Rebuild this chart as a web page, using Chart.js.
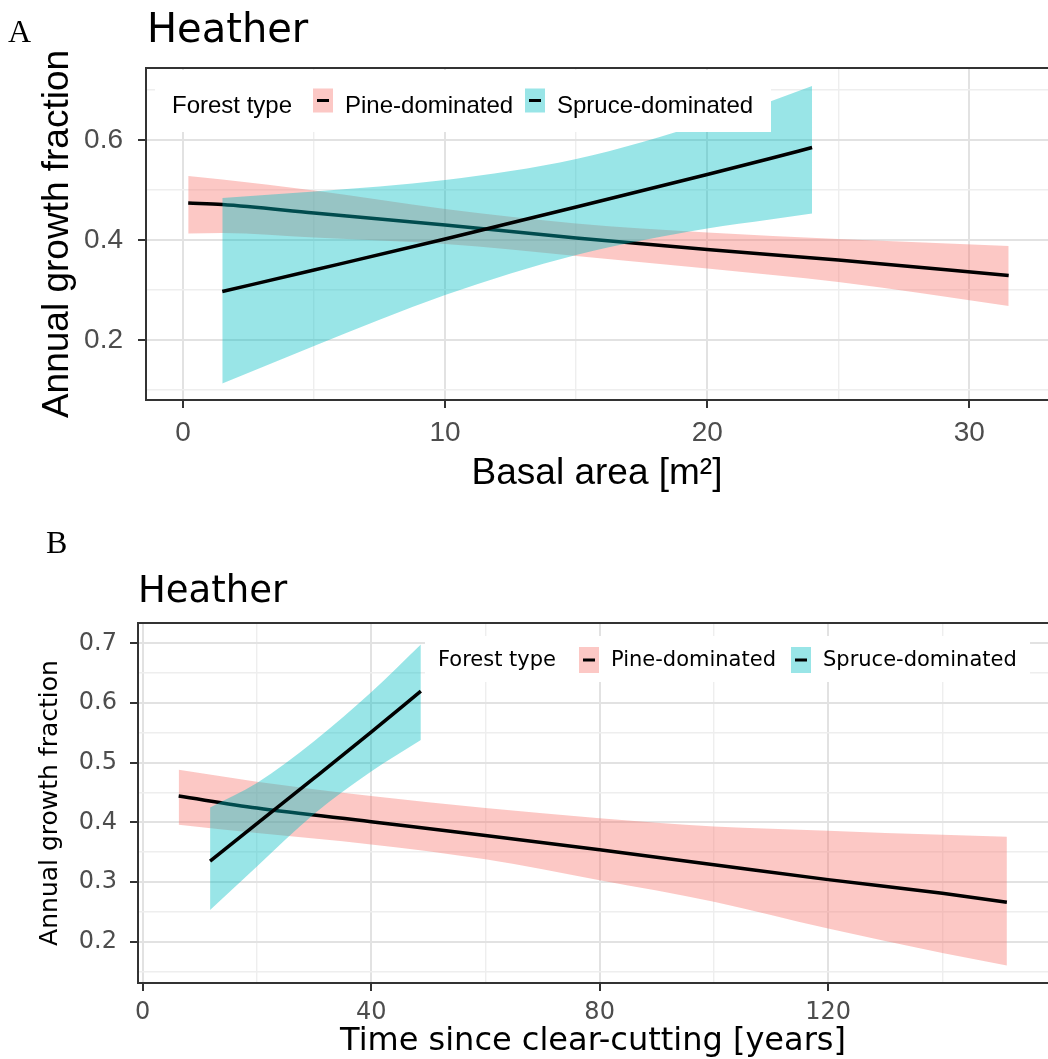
<!DOCTYPE html>
<html>
<head>
<meta charset="utf-8">
<script src="https://cdn.jsdelivr.net/npm/chart.js@4.4.1/dist/chart.umd.min.js"></script>
<style>
  html, body { margin: 0; padding: 0; background: #fff; }
  body { width: 1048px; height: 1059px; position: relative; overflow: hidden; }
  canvas { position: absolute; left: 0; }
  #chartA { top: 0; }
  #chartB { top: 520px; }
  .tag { position: absolute; z-index: 2; font-family: "Liberation Serif", serif; font-size: 32px; line-height: 32px; color: #000; }
</style>
</head>
<body>
<div class="tag" style="left:8px;top:15px">A</div>
<div class="tag" style="left:46px;top:526px">B</div>
<canvas id="chartA" width="1048" height="505"></canvas>
<canvas id="chartB" width="1048" height="539"></canvas>
<script>
// shared text
const panelTitle = 'Heather';
const legendTitle = 'Forest type';
const forestTypes = ['Pine-dominated', 'Spruce-dominated'];
const yTitle = 'Annual growth fraction';

// A: basal area
const basalTitle = 'Basal area [m²]';
const basalXTicks = [0, 10, 20, 30];
const basalXMinor = [5, 15, 25];
const basalYTicks = [0.2, 0.4, 0.6];
const basalYMinor = [0.1, 0.3, 0.5, 0.7];

const basalPineX    = [0.2, 1.5, 5, 10, 15, 20, 25, 31.5];
const basalPineFit  = [0.474, 0.471, 0.454, 0.430, 0.404, 0.381, 0.360, 0.329];
const basalPineLow  = [0.413, 0.414, 0.405, 0.392, 0.368, 0.343, 0.316, 0.268];
const basalPineHigh = [0.528, 0.521, 0.499, 0.462, 0.433, 0.415, 0.402, 0.388];

const basalSpruceX    = [1.5, 5, 10, 15, 20, 22.4, 24];
const basalSpruceFit  = [0.297, 0.340, 0.402, 0.466, 0.531, 0.563, 0.585];
const basalSpruceLow  = [0.113, 0.188, 0.290, 0.370, 0.423, 0.441, 0.453];
const basalSpruceHigh = [0.484, 0.497, 0.520, 0.562, 0.635, 0.677, 0.708];

// B: time since clear-cutting
const timeTitle = 'Time since clear-cutting [years]';
const timeXTicks = [0, 40, 80, 120];
const timeXMinor = [20, 60, 100, 140];
const timeYTicks = [0.2, 0.3, 0.4, 0.5, 0.6, 0.7];
const timeYMinor = [0.15, 0.25, 0.35, 0.45, 0.55, 0.65];

const timePineX    = [6.3, 20, 40, 60, 80, 100, 120, 140, 151.3];
const timePineFit  = [0.444, 0.424, 0.401, 0.378, 0.354, 0.329, 0.304, 0.281, 0.266];
const timePineLow  = [0.396, 0.382, 0.363, 0.338, 0.303, 0.267, 0.222, 0.181, 0.160];
const timePineHigh = [0.488, 0.468, 0.444, 0.424, 0.407, 0.393, 0.386, 0.379, 0.376];

const timeSpruceX    = [11.8, 20, 30, 40, 48.7];
const timeSpruceFit  = [0.335, 0.398, 0.474, 0.551, 0.620];
const timeSpruceLow  = [0.253, 0.326, 0.414, 0.485, 0.538];
const timeSpruceHigh = [0.425, 0.466, 0.536, 0.618, 0.698];

const ribbonFills = ['rgba(248,118,109,0.4)', 'rgba(0,191,196,0.4)'];
const keyOffsets = [141, 353];
const labelOffsets = [173, 385];

function pts(xs, ys) {
    return xs.map((x, i) => ({ x: x, y: ys[i] }));
}

function ribbon(xs, fit, low, high, fill, order) {
    return [
        { data: pts(xs, high), fill: '+1', backgroundColor: fill, borderColor: 'rgba(0,0,0,0)', borderWidth: 0, pointRadius: 0, order: order + 1 },
        { data: pts(xs, low), fill: false, borderColor: 'rgba(0,0,0,0)', borderWidth: 0, pointRadius: 0, order: order + 1 },
        { data: pts(xs, fit), fill: false, borderColor: '#000', borderWidth: 3.5, pointRadius: 0, order: order }
    ];
}

function makePanel(p) {
    const gridFor = (major) => ({
        color: c => (c.tick && major.includes(c.tick.value)) ? '#e2e2e2' : '#eeeeee',
        lineWidth: c => (c.tick && major.includes(c.tick.value)) ? 2 : 1.4,
        tickLength: 8,
        tickWidth: 2,
        tickColor: c => (c.tick && major.includes(c.tick.value)) ? '#333333' : 'rgba(0,0,0,0)'
    });

    const decor = {
        id: 'decor',
        afterDatasetsDraw(chart) {
            const ctx = chart.ctx;
            const a = chart.chartArea;
            const L = p.legend;
            ctx.save();
            // legend sits inside the panel on a white box
            ctx.fillStyle = '#fff';
            ctx.fillRect(L.box[0], L.box[1], L.box[2] - L.box[0], L.box[3] - L.box[1]);
            ctx.font = L.size + 'px ' + p.font;
            ctx.textAlign = 'left';
            ctx.textBaseline = 'middle';
            ctx.fillStyle = '#000';
            ctx.fillText(legendTitle, L.x, L.y);
            forestTypes.forEach((name, i) => {
                const kx = L.x + keyOffsets[i];
                ctx.fillStyle = ribbonFills[i];
                ctx.fillRect(kx, L.keyY - L.keyH / 2, 20, L.keyH);
                ctx.fillStyle = '#000';
                ctx.fillRect(kx + 4, L.keyY - 1.5, 12, 3);
                ctx.fillText(name, L.x + labelOffsets[i], L.y);
            });
            // top border of the panel
            ctx.strokeStyle = '#333';
            ctx.lineWidth = 2;
            ctx.beginPath();
            ctx.moveTo(a.left - 1, a.top);
            ctx.lineTo(a.right, a.top);
            ctx.stroke();
            // title
            ctx.font = p.titleFont;
            ctx.textBaseline = 'alphabetic';
            ctx.fillStyle = '#000';
            ctx.fillText(panelTitle, p.titleX, p.titleY);
            ctx.restore();
        }
    };

    const datasets = [].concat(
        ribbon(p.pine[0], p.pine[1], p.pine[2], p.pine[3], ribbonFills[0], 5),
        ribbon(p.spruce[0], p.spruce[1], p.spruce[2], p.spruce[3], ribbonFills[1], 3)
    );

    return new Chart(document.getElementById(p.canvas), {
        type: 'line',
        data: { datasets: datasets },
        plugins: [decor],
        options: {
            animation: false,
            responsive: false,
            events: [],
            layout: { padding: { top: p.padTop, left: 0, right: 0, bottom: 0 } },
            elements: { line: { cubicInterpolationMode: 'monotone' } },
            plugins: {
                legend: { display: false },
                tooltip: { enabled: false }
            },
            scales: {
                x: {
                    type: 'linear',
                    min: p.xMin,
                    max: p.xMax,
                    afterBuildTicks: s => { s.ticks = p.xMajor.concat(p.xMinor).sort((a, b) => a - b).map(v => ({ value: v })); },
                    afterFit: s => { s.height = p.xAxisHeight; },
                    ticks: {
                        autoSkip: false, maxRotation: 0, padding: p.xTickPad, color: '#4d4d4d',
                        font: { family: p.font, size: p.tickSize },
                        callback: v => p.xMajor.includes(v) ? String(v) : ''
                    },
                    grid: gridFor(p.xMajor),
                    border: { display: true, color: '#333', width: 2 },
                    title: {
                        display: true, text: p.xTitle, color: '#000',
                        font: { family: p.font, size: p.xTitleSize, lineHeight: p.xTitleLH },
                        padding: { top: 0, bottom: p.xTitlePad }
                    }
                },
                y: {
                    type: 'linear',
                    min: p.yMin,
                    max: p.yMax,
                    afterBuildTicks: s => { s.ticks = p.yMajor.concat(p.yMinor).sort((a, b) => a - b).map(v => ({ value: v })); },
                    afterFit: s => { s.width = p.yAxisWidth; },
                    ticks: {
                        autoSkip: false, padding: p.yTickPad, color: '#4d4d4d',
                        font: { family: p.font, size: p.tickSize },
                        callback: v => p.yMajor.includes(v) ? v.toFixed(1) : ''
                    },
                    grid: gridFor(p.yMajor),
                    border: { display: true, color: '#333', width: 2 },
                    title: {
                        display: true, text: yTitle, color: '#000',
                        font: { family: p.font, size: p.yTitleSize },
                        padding: { top: p.yTitlePad, bottom: 0 }
                    }
                }
            }
        }
    });
}

makePanel({
    canvas: 'chartA',
    font: '"Liberation Sans", Arial, sans-serif',
    titleFont: '40px "DejaVu Sans"', titleX: 147, titleY: 42,
    xTitle: basalTitle, xMin: -1.41, xMax: 33.0, xMajor: basalXTicks, xMinor: basalXMinor,
    yMin: 0.08, yMax: 0.744, yMajor: basalYTicks, yMinor: basalYMinor,
    padTop: 68, yAxisWidth: 146, xAxisHeight: 105,
    tickSize: 28, xTickPad: 8, yTickPad: 15,
    xTitleSize: 37, xTitleLH: 1.2, xTitlePad: 9,
    yTitleSize: 37, yTitlePad: 36,
    legend: { x: 172, y: 106, keyY: 100.5, keyH: 24, size: 24, box: [155, 70, 771, 132] },
    pine: [basalPineX, basalPineFit, basalPineLow, basalPineHigh],
    spruce: [basalSpruceX, basalSpruceFit, basalSpruceLow, basalSpruceHigh]
});

makePanel({
    canvas: 'chartB',
    font: '"DejaVu Sans", sans-serif',
    titleFont: '37px "DejaVu Sans"', titleX: 138, titleY: 82,
    xTitle: timeTitle, xMin: -0.82, xMax: 158.5, xMajor: timeXTicks, xMinor: timeXMinor,
    yMin: 0.1308, yMax: 0.734, yMajor: timeYTicks, yMinor: timeYMinor,
    padTop: 103, yAxisWidth: 138, xAxisHeight: 76,
    tickSize: 24, xTickPad: 7, yTickPad: 13,
    xTitleSize: 32, xTitleLH: 1, xTitlePad: 1,
    yTitleSize: 25, yTitlePad: 35,
    legend: { x: 438, y: 141, keyY: 140, keyH: 26, size: 21, box: [425, 116, 1030, 162] },
    pine: [timePineX, timePineFit, timePineLow, timePineHigh],
    spruce: [timeSpruceX, timeSpruceFit, timeSpruceLow, timeSpruceHigh]
});
</script>
</body>
</html>
